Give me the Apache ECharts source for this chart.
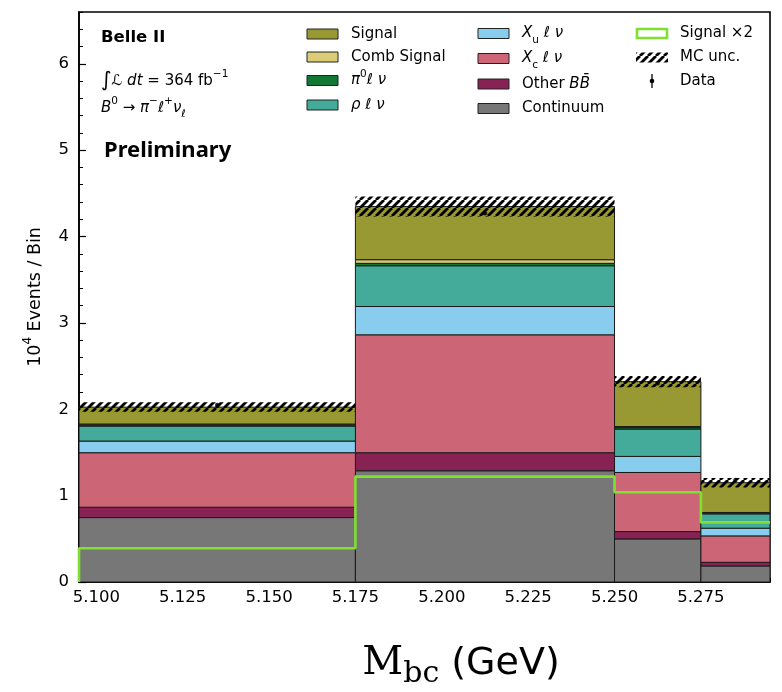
<!DOCTYPE html>
<html><head><meta charset="utf-8">
<script src="https://cdn.jsdelivr.net/npm/echarts@6/dist/echarts.min.js"></script>
<style>html,body{margin:0;padding:0;background:#fff}#c{width:782px;height:692px}</style>
</head><body><div id="c"></div>
<script>
// ---- data (units: 10^4 events / bin) ----
const binEdges   = [5.095, 5.175, 5.25, 5.275, 5.295];
const continuum  = [0.746, 1.288, 0.499, 0.186];
const otherBB    = [0.120, 0.209, 0.085, 0.042];
const xcLnu      = [0.631, 1.365, 0.684, 0.306];
const xuLnu      = [0.135, 0.328, 0.186, 0.089];
const rhoLnu     = [0.174, 0.472, 0.317, 0.166];
const pi0Lnu     = [0.013, 0.028, 0.017, 0.012];
const combSignal = [0.010, 0.042, 0.012, 0.004];
const signal     = [0.196, 0.615, 0.520, 0.345];
const mcUnc      = [0.055, 0.116, 0.065, 0.055];
const signalX2   = [0.39, 1.22, 1.04, 0.69];
const dataVals   = [2.05, 4.27, 2.30, 1.18];
const dataErr    = [0.014, 0.021, 0.015, 0.011];
const xTicks     = [5.100, 5.125, 5.150, 5.175, 5.200, 5.225, 5.250, 5.275];
const yTicks     = [0, 1, 2, 3, 4, 5, 6];

const layers = [
  {name: 'Continuum',   vals: continuum,  color: '#777777'},
  {name: 'Other BB',    vals: otherBB,    color: '#882255'},
  {name: 'Xc l nu',     vals: xcLnu,      color: '#CC6677'},
  {name: 'Xu l nu',     vals: xuLnu,      color: '#88CCEE'},
  {name: 'rho l nu',    vals: rhoLnu,     color: '#44AA99'},
  {name: 'pi0 l nu',    vals: pi0Lnu,     color: '#117733'},
  {name: 'Comb Signal', vals: combSignal, color: '#DDCC77'},
  {name: 'Signal',      vals: signal,     color: '#999933'}
];

const GREEN = '#80e030';

// hatch pattern
const pc = document.createElement('canvas'); pc.width = 8; pc.height = 8;
const pctx = pc.getContext('2d');
pctx.strokeStyle = '#000'; pctx.lineWidth = 2.8;
for (const o of [-8, 0, 8]) { pctx.beginPath(); pctx.moveTo(o, 8); pctx.lineTo(o + 8, 0); pctx.stroke(); }
const hatch = {image: pc, repeat: 'repeat'};

function rectItem(color, stroke) {
  return function (params, api) {
    const p0 = api.coord([api.value(0), api.value(3)]);
    const p1 = api.coord([api.value(1), api.value(2)]);
    return {
      type: 'rect',
      shape: {x: p0[0], y: p0[1], width: p1[0] - p0[0], height: p1[1] - p0[1]},
      style: stroke ? {fill: color, stroke: '#1a1a1a', lineWidth: 1} : {fill: color},
      z2: 1
    };
  };
}

const series = [];
const base = binEdges.slice(0, -1).map(() => 0);
layers.forEach(L => {
  const d = L.vals.map((v, i) => [binEdges[i], binEdges[i + 1], base[i], base[i] + v]);
  L.vals.forEach((v, i) => base[i] += v);
  series.push({type: 'custom', name: L.name, renderItem: rectItem(L.color, true),
    encode: {x: [0, 1], y: [2, 3]}, data: d, clip: true});
});
const total = base.slice();
series.push({type: 'custom', name: 'MC unc', renderItem: rectItem(hatch, false),
  encode: {x: [0, 1], y: [2, 3]},
  data: total.map((t, i) => [binEdges[i], binEdges[i + 1], t - mcUnc[i], t + mcUnc[i]])});

// signal x2 step
const stepPts = [[binEdges[0], 0]];
signalX2.forEach((v, i) => { stepPts.push([binEdges[i], v]); stepPts.push([binEdges[i + 1], v]); });
series.push({type: 'line', name: 'Signal x2', data: stepPts, showSymbol: false, symbol: 'none',
  lineStyle: {color: GREEN, width: 2.6}, z: 5, clip: true});

// data points
const centers = dataVals.map((v, i) => (binEdges[i] + binEdges[i + 1]) / 2);
series.push({type: 'custom', name: 'Data err', z: 6,
  renderItem: function (params, api) {
    const a = api.coord([api.value(0), api.value(1) - api.value(2)]);
    const b = api.coord([api.value(0), api.value(1) + api.value(2)]);
    return {type: 'line', shape: {x1: a[0], y1: a[1], x2: b[0], y2: b[1]}, style: {stroke: '#000', lineWidth: 1.2}};
  },
  encode: {x: 0, y: 1}, data: dataVals.map((v, i) => [centers[i], v, dataErr[i]])});
series.push({type: 'scatter', name: 'Data', z: 7, symbolSize: 4.5, itemStyle: {color: '#000'},
  data: dataVals.map((v, i) => [centers[i], v])});

const FONT = 'DejaVu Sans';
const axisBase = {type: 'value', splitLine: {show: false}, gridIndex: 0};
const xMin = binEdges[0], xMax = binEdges[binEdges.length - 1];

// legend
const legendCols = [
  {x: 307, rows: [
    {kind: 'patch', color: '#999933', text: 'Signal'},
    {kind: 'patch', color: '#DDCC77', text: 'Comb Signal'},
    {kind: 'patch', color: '#117733', text: '{i|π}{s|0}{i|ℓ ν}'},
    {kind: 'patch', color: '#44AA99', text: '{i|ρ ℓ ν}'}], ys: [34, 57, 80.5, 105]},
  {x: 478, rows: [
    {kind: 'patch', color: '#88CCEE', text: '{i|X}{b|u}{i| ℓ ν}'},
    {kind: 'patch', color: '#CC6677', text: '{i|X}{b|c}{i| ℓ ν}'},
    {kind: 'patch', color: '#882255', text: 'Other {i|BB̄}'},
    {kind: 'patch', color: '#777777', text: 'Continuum'}], ys: [33.5, 58.5, 84, 108.5]},
  {x: 636, rows: [
    {kind: 'sig2', text: 'Signal ×2'},
    {kind: 'hatch', text: 'MC unc.'},
    {kind: 'data', text: 'Data'}], ys: [33.5, 57.5, 81]}
];
function richSet(fs) {
  const small = Math.round(fs * 0.7 * 10) / 10;
  return {
    i: {fontStyle: 'italic', fontSize: fs, fontFamily: FONT, lineHeight: 24},
    n: {fontSize: fs, fontFamily: FONT, lineHeight: 24},
    big: {fontSize: fs * 1.35, fontFamily: FONT, lineHeight: 24},
    s: {fontSize: small, fontFamily: FONT, verticalAlign: 'top', lineHeight: 12},
    b: {fontSize: small, fontFamily: FONT, verticalAlign: 'bottom', lineHeight: 14},
    si: {fontSize: small, fontFamily: FONT, fontStyle: 'italic', verticalAlign: 'bottom', lineHeight: 14}
  };
}
const rich15 = richSet(15);
const graphics = [];
legendCols.forEach(col => {
  col.rows.forEach((r, k) => {
    const y = col.ys[k];
    if (r.kind === 'patch') {
      graphics.push({type: 'rect', shape: {x: col.x, y: y - 5, width: 31, height: 10},
        style: {fill: r.color, stroke: '#222', lineWidth: 1}});
    } else if (r.kind === 'sig2') {
      graphics.push({type: 'rect', shape: {x: col.x + 1, y: y - 4.5, width: 30, height: 9},
        style: {fill: 'none', stroke: GREEN, lineWidth: 2.6}});
    } else if (r.kind === 'hatch') {
      graphics.push({type: 'rect', shape: {x: col.x, y: y - 5, width: 32, height: 10},
        style: {fill: hatch}});
    } else if (r.kind === 'data') {
      graphics.push({type: 'line', shape: {x1: col.x + 16, y1: y - 7, x2: col.x + 16, y2: y + 7},
        style: {stroke: '#000', lineWidth: 1.3}});
      graphics.push({type: 'circle', shape: {cx: col.x + 16, cy: y, r: 2.3}, style: {fill: '#000'}});
    }
    graphics.push({type: 'text', x: col.x + 44, y: y,
      style: {text: r.text, fontSize: 15, fontFamily: FONT, fill: '#000', lineHeight: 24,
        verticalAlign: 'middle', align: 'left', rich: rich15}});
  });
});
// experiment text
graphics.push({type: 'text', x: 101, y: 38, style: {text: 'Belle II', fontSize: 16.5, fontWeight: 'bold',
  fontFamily: FONT, fill: '#000', verticalAlign: 'middle'}});
graphics.push({type: 'text', x: 101, y: 81, style: {text: '{big|∫}{i|ℒ dt} = 364 fb{s|−1}', fontSize: 15,
  fontFamily: FONT, fill: '#000', verticalAlign: 'middle', lineHeight: 24, rich: rich15}});
graphics.push({type: 'text', x: 101, y: 108, style: {text: '{i|B}{s|0} → {i|π}{s|−}{i|ℓ}{s|+}{i|ν}{si|ℓ}', fontSize: 15,
  fontFamily: FONT, fill: '#000', verticalAlign: 'middle', lineHeight: 24, rich: rich15}});
graphics.push({type: 'text', x: 104, y: 151, style: {text: 'Preliminary', fontSize: 22, fontWeight: 'bold',
  fontFamily: 'Noto Sans', fill: '#000', verticalAlign: 'middle'}});
// axis titles
graphics.push({type: 'text', x: 35, y: 297, rotation: Math.PI / 2,
  style: {text: '10{s|4} Events / Bin', fontSize: 17.5, fontFamily: FONT, fill: '#000', lineHeight: 26,
    align: 'center', verticalAlign: 'middle', rich: Object.assign(richSet(17.5), {
      s: {fontSize: 12, fontFamily: FONT, verticalAlign: 'top', lineHeight: 13}})}});
graphics.push({type: 'text', x: 461, y: 664,
  style: {text: '{m|M}{mb|bc}{g| (GeV)}', fill: '#000', align: 'center', verticalAlign: 'middle',
    rich: {
      m: {fontSize: 40, fontFamily: 'DejaVu Serif', lineHeight: 50},
      mb: {fontSize: 30, fontFamily: 'DejaVu Serif', verticalAlign: 'bottom', lineHeight: 26},
      g: {fontSize: 38, fontFamily: FONT, lineHeight: 50}
    }}});

const option = {
  animation: false,
  backgroundColor: '#fff',
  grid: {left: 79, right: 12, top: 12, bottom: 110, show: true, borderColor: '#000', borderWidth: 1.6,
    backgroundColor: 'transparent'},
  xAxis: [
    Object.assign({}, axisBase, {min: xMin, max: xMax, position: 'bottom',
      axisLine: {show: true, onZero: false, lineStyle: {color: '#000', width: 1.6}},
      axisTick: {show: true, inside: true, length: 7, customValues: xTicks, lineStyle: {color: '#000', width: 1.2}},
      axisLabel: {show: true, customValues: xTicks, formatter: v => v.toFixed(3), fontSize: 16.5,
        fontFamily: FONT, color: '#000', margin: 7}}),
    Object.assign({}, axisBase, {min: xMin, max: xMax, interval: 0.005, position: 'bottom',
      axisLine: {show: false, onZero: false},
      axisTick: {show: true, inside: true, length: 4, lineStyle: {color: '#000', width: 1}},
      axisLabel: {show: false}})
  ],
  yAxis: [
    Object.assign({}, axisBase, {min: 0, max: 6.6, position: 'left',
      axisLine: {show: true, onZero: false, lineStyle: {color: '#000', width: 1.6}},
      axisTick: {show: true, inside: true, length: 7, customValues: yTicks, lineStyle: {color: '#000', width: 1.2}},
      axisLabel: {show: true, customValues: yTicks, fontSize: 16.5, fontFamily: FONT, color: '#000', margin: 10}}),
    Object.assign({}, axisBase, {min: 0, max: 6.6, interval: 0.2, position: 'left',
      axisLine: {show: false, onZero: false},
      axisTick: {show: true, inside: true, length: 4, lineStyle: {color: '#000', width: 1}},
      axisLabel: {show: false}})
  ],
  series: series,
  graphic: {elements: graphics}
};
const chart = echarts.init(document.getElementById('c'), null, {renderer: 'canvas'});
chart.setOption(option);
</script>
</body></html>
